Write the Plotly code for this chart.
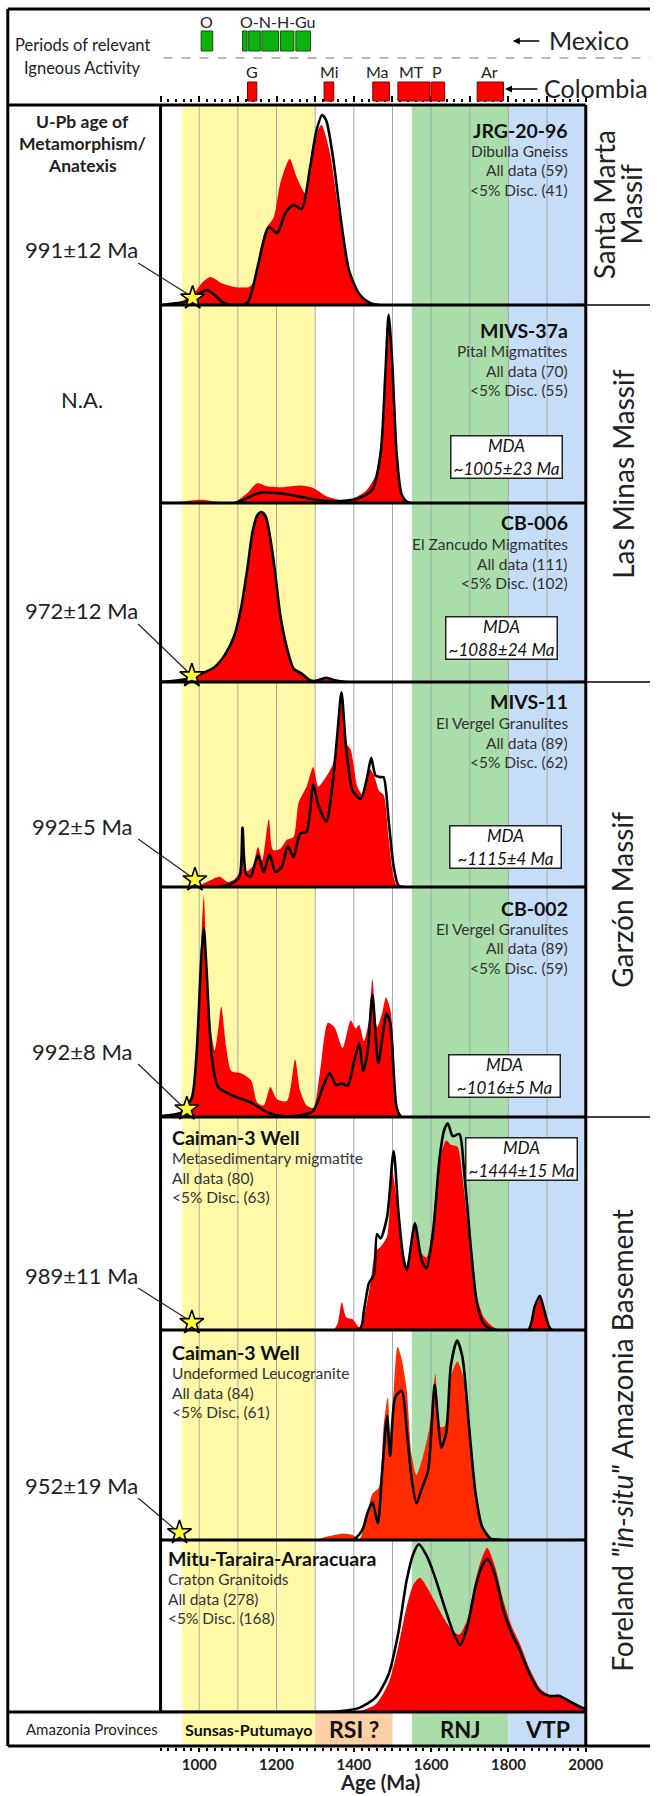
import plotly.graph_objects as go

W, H = 668, 1796
AGE_MIN, AGE_MAX = 900, 2000
X0, X1 = 165, 602          # plot area (px)
FONT = "Lato"

# ---------------- data ----------------
sample_ids = ["JRG-20-96", "MIVS-37a", "CB-006", "MIVS-11", "CB-002",
              "Caiman-3 Well", "Caiman-3 Well", "Mitu-Taraira-Araracuara"]
units = ["Dibulla Gneiss", "Pital Migmatites", "El Zancudo Migmatites", "El Vergel Granulites",
         "El Vergel Granulites", "Metasedimentary migmatite", "Undeformed Leucogranite", "Craton Granitoids"]
n_all = [59, 70, 111, 89, 89, 80, 84, 278]
n_conc = [41, 55, 102, 62, 59, 63, 61, 168]
mda_text = [None, "~1005±23 Ma", "~1088±24 Ma", "~1115±4 Ma", "~1016±5 Ma", "~1444±15 Ma", None, None]
meta_labels = ["991±12 Ma", "N.A.", "972±12 Ma", "992±5 Ma", "992±8 Ma", "989±11 Ma", "952±19 Ma", None]
star_ages = [983, None, 981, 989, 968, 981, 949, None]

p1_red_age = [900, 955, 985, 1007, 1029, 1057, 1091, 1129, 1142, 1159, 1176, 1193, 1210, 1234, 1252, 1274, 1295, 1316, 1337, 1363, 1388, 1414, 1448, 1482, 2000]
p1_red = [0.003, 0.02, 0.055, 0.11, 0.14, 0.11, 0.09, 0.09, 0.12, 0.29, 0.39, 0.44, 0.61, 0.73, 0.64, 0.56, 0.81, 0.90, 0.77, 0.44, 0.16, 0.05, 0.01, 0.0, 0.0]
p1_blk_age = [900, 972, 998, 1019, 1040, 1061, 1091, 1125, 1151, 1172, 1180, 1202, 1223, 1244, 1265, 1287, 1303, 1318, 1329, 1346, 1367, 1388, 1414, 1439, 1465, 2000]
p1_blk = [0.0, 0.02, 0.055, 0.075, 0.05, 0.013, 0.0, 0.013, 0.19, 0.36, 0.39, 0.36, 0.46, 0.50, 0.48, 0.69, 0.87, 0.95, 0.92, 0.74, 0.42, 0.17, 0.055, 0.013, 0.0, 0.0]

p2_red_age = [900, 955, 1006, 1040, 1091, 1108, 1125, 1150, 1176, 1218, 1261, 1295, 1329, 1363, 1397, 1431, 1456, 1473, 1483, 1490, 1503, 1515, 1528, 1550, 2000]
p2_red = [0.003, 0.008, 0.017, 0.008, 0.003, 0.025, 0.05, 0.10, 0.085, 0.08, 0.088, 0.076, 0.034, 0.017, 0.022, 0.06, 0.14, 0.36, 0.75, 0.93, 0.58, 0.16, 0.025, 0.003, 0.0]
p2_blk_age = [900, 1091, 1116, 1142, 1167, 1201, 1235, 1278, 1320, 1363, 1414, 1448, 1469, 1482, 1490, 1499, 1511, 1524, 1541, 2000]
p2_blk = [0.0, 0.0, 0.017, 0.042, 0.054, 0.05, 0.042, 0.025, 0.012, 0.008, 0.025, 0.068, 0.245, 0.67, 0.95, 0.72, 0.245, 0.042, 0.003, 0.0]

p3_red_age = [900, 964, 1006, 1040, 1066, 1091, 1108, 1125, 1138, 1150, 1161, 1172, 1184, 1197, 1210, 1227, 1244, 1265, 1286, 1299, 1329, 1350, 1380, 2000]
p3_red = [0.0, 0.015, 0.047, 0.084, 0.15, 0.26, 0.41, 0.64, 0.84, 0.93, 0.95, 0.925, 0.80, 0.60, 0.37, 0.19, 0.075, 0.047, 0.01, 0.005, 0.024, 0.01, 0.0, 0.0]
p3_blk_age = p3_red_age
p3_blk = p3_red

p4_red_age = [900, 989, 1019, 1053, 1074, 1091, 1106, 1112, 1118, 1138, 1152, 1163, 1180, 1191, 1210, 1227, 1244, 1257, 1278, 1295, 1308, 1329, 1346, 1358, 1367, 1380, 1392, 1409, 1422, 1439, 1452, 1465, 1477, 1490, 1503, 1515, 2000]
p4_red = [0.0, 0.0, 0.024, 0.05, 0.024, 0.036, 0.08, 0.25, 0.073, 0.1, 0.195, 0.13, 0.33, 0.18, 0.187, 0.23, 0.244, 0.41, 0.49, 0.585, 0.49, 0.54, 0.60, 0.76, 0.91, 0.70, 0.67, 0.49, 0.45, 0.58, 0.545, 0.47, 0.45, 0.24, 0.05, 0.0, 0.0]
p4_blk_age = [900, 1049, 1083, 1104, 1112, 1121, 1133, 1152, 1167, 1182, 1197, 1214, 1229, 1244, 1261, 1278, 1295, 1308, 1329, 1346, 1358, 1368, 1380, 1397, 1418, 1435, 1445, 1456, 1469, 1477, 1490, 1503, 1515, 1528, 2000]
p4_blk = [0.0, 0.0, 0.016, 0.05, 0.29, 0.065, 0.05, 0.155, 0.073, 0.16, 0.073, 0.1, 0.2, 0.146, 0.26, 0.27, 0.50, 0.40, 0.32, 0.52, 0.76, 0.95, 0.68, 0.47, 0.43, 0.54, 0.63, 0.545, 0.536, 0.536, 0.325, 0.1, 0.008, 0.0, 0.0]

p5_red_age = [900, 947, 972, 989, 1002, 1012, 1023, 1040, 1049, 1057, 1070, 1083, 1108, 1134, 1150, 1167, 1184, 1201, 1227, 1248, 1261, 1278, 1295, 1312, 1333, 1350, 1371, 1392, 1405, 1414, 1426, 1439, 1448, 1460, 1473, 1483, 1494, 1503, 1511, 1524, 2000]
p5_red = [0.004, 0.02, 0.05, 0.16, 0.64, 0.96, 0.49, 0.29, 0.38, 0.48, 0.30, 0.20, 0.19, 0.16, 0.063, 0.05, 0.13, 0.077, 0.07, 0.25, 0.114, 0.05, 0.04, 0.19, 0.41, 0.39, 0.30, 0.42, 0.385, 0.40, 0.33, 0.42, 0.60, 0.39, 0.45, 0.52, 0.47, 0.30, 0.04, 0.0, 0.0]
p5_blk_age = [900, 955, 981, 993, 1006, 1012, 1019, 1032, 1049, 1091, 1134, 1176, 1218, 1261, 1295, 1320, 1337, 1354, 1369, 1384, 1401, 1414, 1424, 1435, 1448, 1463, 1475, 1484, 1494, 1503, 1511, 1524, 2000]
p5_blk = [0.004, 0.02, 0.085, 0.27, 0.71, 0.82, 0.64, 0.27, 0.13, 0.09, 0.063, 0.02, 0.004, 0.007, 0.026, 0.13, 0.19, 0.14, 0.145, 0.136, 0.245, 0.32, 0.20, 0.275, 0.53, 0.234, 0.36, 0.45, 0.41, 0.20, 0.04, 0.0, 0.0]

p6_red_age = [900, 1346, 1358, 1369, 1380, 1397, 1414, 1426, 1443, 1456, 1469, 1486, 1499, 1511, 1524, 1537, 1558, 1575, 1588, 1605, 1622, 1639, 1651, 1668, 1681, 1698, 1715, 1736, 1762, 1787, 1855, 1868, 1881, 1893, 1910, 2000]
p6_red = [0.0, 0.0, 0.03, 0.13, 0.06, 0.05, 0.013, 0.06, 0.22, 0.37, 0.39, 0.44, 0.75, 0.61, 0.37, 0.30, 0.51, 0.36, 0.34, 0.51, 0.80, 0.89, 0.87, 0.86, 0.72, 0.44, 0.185, 0.06, 0.013, 0.0, 0.005, 0.09, 0.15, 0.075, 0.005, 0.0]
p6_blk_age = [900, 1414, 1426, 1439, 1452, 1460, 1469, 1486, 1503, 1515, 1528, 1537, 1558, 1575, 1588, 1605, 1622, 1634, 1643, 1656, 1673, 1685, 1702, 1719, 1736, 1762, 1851, 1868, 1881, 1893, 1910, 2000]
p6_blk = [0.0, 0.0, 0.09, 0.22, 0.26, 0.45, 0.43, 0.53, 0.84, 0.56, 0.34, 0.28, 0.50, 0.33, 0.29, 0.46, 0.81, 0.94, 0.97, 0.91, 0.92, 0.75, 0.40, 0.12, 0.03, 0.0, 0.0, 0.11, 0.16, 0.09, 0.003, 0.0]

p7_red_age = [900, 1295, 1329, 1371, 1397, 1414, 1431, 1448, 1465, 1477, 1488, 1494, 1503, 1513, 1524, 1537, 1549, 1562, 1579, 1596, 1611, 1622, 1634, 1651, 1668, 1685, 1702, 1719, 1736, 1753, 1778, 2000]
p7_red = [0.0, 0.0, 0.016, 0.03, 0.024, 0.003, 0.095, 0.22, 0.25, 0.54, 0.68, 0.48, 0.71, 0.92, 0.86, 0.71, 0.41, 0.31, 0.40, 0.54, 0.79, 0.54, 0.54, 0.78, 0.85, 0.76, 0.48, 0.19, 0.048, 0.008, 0.0, 0.0]
p7_blk_age = [900, 1397, 1422, 1435, 1448, 1462, 1473, 1486, 1494, 1507, 1524, 1537, 1549, 1562, 1575, 1592, 1609, 1617, 1626, 1639, 1651, 1667, 1681, 1698, 1715, 1732, 1753, 1778, 2000]
p7_blk = [0.0, 0.0, 0.048, 0.127, 0.18, 0.08, 0.32, 0.59, 0.40, 0.68, 0.71, 0.52, 0.30, 0.175, 0.24, 0.33, 0.74, 0.59, 0.44, 0.51, 0.83, 0.95, 0.87, 0.54, 0.22, 0.063, 0.008, 0.0, 0.0]

p8_red_age = [900, 1380, 1414, 1456, 1490, 1515, 1537, 1554, 1571, 1588, 1609, 1634, 1656, 1673, 1694, 1715, 1732, 1745, 1766, 1787, 1808, 1829, 1855, 1881, 1906, 1932, 1957, 1991, 2000]
p8_red = [0.0, 0.0, 0.004, 0.043, 0.17, 0.38, 0.615, 0.74, 0.78, 0.73, 0.645, 0.54, 0.47, 0.45, 0.54, 0.77, 0.90, 0.955, 0.84, 0.645, 0.50, 0.40, 0.25, 0.14, 0.10, 0.10, 0.067, 0.028, 0.025]
p8_blk_age = [900, 1295, 1363, 1414, 1456, 1490, 1515, 1537, 1554, 1568, 1588, 1609, 1634, 1656, 1675, 1694, 1715, 1732, 1746, 1766, 1787, 1808, 1829, 1855, 1881, 1906, 1932, 1957, 1991, 2000]
p8_blk = [0.0, 0.0, 0.004, 0.024, 0.083, 0.22, 0.46, 0.77, 0.92, 0.975, 0.91, 0.79, 0.615, 0.47, 0.39, 0.50, 0.73, 0.85, 0.89, 0.79, 0.59, 0.46, 0.36, 0.22, 0.12, 0.093, 0.093, 0.063, 0.024, 0.02]

red_ages = [p1_red_age, p2_red_age, p3_red_age, p4_red_age, p5_red_age, p6_red_age, p7_red_age, p8_red_age]
red_vals = [p1_red, p2_red, p3_red, p4_red, p5_red, p6_red, p7_red, p8_red]
blk_ages = [p1_blk_age, p2_blk_age, p3_blk_age, p4_blk_age, p5_blk_age, p6_blk_age, p7_blk_age, p8_blk_age]
blk_vals = [p1_blk, p2_blk, p3_blk, p4_blk, p5_blk, p6_blk, p7_blk, p8_blk]

# igneous activity periods (Ma)
mexico_periods = [[1005, 1035], [1112, 1124], [1128, 1158], [1162, 1205], [1210, 1245], [1250, 1288]]
mexico_labels = ["O", "O-N-H-Gu"]
mexico_label_ages = [1019, 1205]
colombia_periods = [[1125, 1149], [1323, 1348], [1449, 1492], [1514, 1597], [1600, 1635], [1719, 1787]]
colombia_labels = ["G", "Mi", "Ma", "MT", "P", "Ar"]
colombia_label_ages = [1137, 1336, 1462, 1548, 1614, 1752]

# Amazonian provinces
province_names = ["Sunsas-Putumayo", "RSI ?", "RNJ", "VTP"]
province_ranges = [[955, 1300], [1300, 1500], [1550, 1800], [1800, 2000]]
province_colors = ["#FFF9A8", "#FCCFA4", "#A9DDA9", "#C6DDF8"]
province_font = [16, 23, 22, 23]
band_ranges = [[955, 1300], [1550, 1800], [1800, 2000]]
band_colors = ["#FFF9A8", "#A9DDA9", "#C6DDF8"]
grid_ages = [1000, 1100, 1200, 1300, 1400, 1500, 1600, 1700, 1800, 1900]
tick_label_ages = [1000, 1200, 1400, 1600, 1800, 2000]

# ---------------- layout geometry (px) ----------------
edges = [105, 305, 503, 682, 887, 1117, 1330, 1540, 1712]
STRIP_BOT = 1746

def px(x): return x / W
def py(y): return 1 - y / H
def age_px(a): return X0 + (a - AGE_MIN) * (X1 - X0) / (AGE_MAX - AGE_MIN)

fig = go.Figure()
layout = dict(width=W, height=H, margin=dict(l=0, r=0, t=0, b=0),
              paper_bgcolor="white", plot_bgcolor="rgba(0,0,0,0)", showlegend=False,
              font=dict(family=FONT, color="#222"))

tick_vals = list(range(AGE_MIN, AGE_MAX + 1, 100))
tick_text = [str(v) if v in tick_label_ages else "" for v in tick_vals]
minor_vals = list(range(AGE_MIN, AGE_MAX + 1, 20))
layout["xaxis"] = dict(domain=[px(X0), px(X1)], range=[AGE_MIN, AGE_MAX], anchor="free",
                       position=py(STRIP_BOT + 1), showgrid=False, zeroline=False, showline=False,
                       tickmode="array", tickvals=tick_vals, ticktext=tick_text, ticks="outside",
                       ticklen=4, tickwidth=2, tickcolor="black",
                       minor=dict(tickmode="array", tickvals=minor_vals, ticks="outside", ticklen=3,
                                  tickwidth=1.5, tickcolor="black", showgrid=False),
                       tickfont=dict(family=FONT, size=15, color="#222", weight="bold"), fixedrange=True)
layout["xaxis2"] = dict(domain=[px(X0), px(X1)], range=[AGE_MIN, AGE_MAX], anchor="free", overlaying="x",
                        side="top", position=py(102), showgrid=False, zeroline=False, showline=False,
                        tickmode="array", tickvals=tick_vals, ticks="outside", ticklen=6, tickwidth=2,
                        tickcolor="black", showticklabels=False,
                        minor=dict(tickmode="array", tickvals=minor_vals, ticks="outside", ticklen=3,
                                   tickwidth=1.5, tickcolor="black", showgrid=False), fixedrange=True)

fill_colors = ["#FF0000"] * 6 + ["#FF2A00", "#FF0000"]
for i in range(8):
    yname = "y" if i == 0 else f"y{i+1}"
    lname = "yaxis" if i == 0 else f"yaxis{i+1}"
    layout[lname] = dict(domain=[py(edges[i + 1]), py(edges[i])], range=[0, 1], visible=False,
                         anchor="free", position=px(X0), fixedrange=True)
    fig.add_trace(go.Scatter(x=red_ages[i], y=red_vals[i], xaxis="x", yaxis=yname, mode="lines",
                             line=dict(width=0, shape="spline", smoothing=0.7), fill="tozeroy",
                             fillcolor=fill_colors[i], hoverinfo="skip"))
    fig.add_trace(go.Scatter(x=blk_ages[i], y=blk_vals[i], xaxis="x", yaxis=yname, mode="lines",
                             line=dict(width=2.6, color="black", shape="spline", smoothing=0.7),
                             hoverinfo="skip"))
    if star_ages[i] is not None:
        fig.add_trace(go.Scatter(x=[star_ages[i]], y=[0.035], xaxis="x", yaxis=yname, mode="markers",
                                 marker=dict(symbol="star", size=18, color="#FFFF3A",
                                             line=dict(width=1.6, color="black")),
                                 cliponaxis=False, hoverinfo="skip"))
fig.add_trace(go.Scatter(x=[AGE_MIN], y=[0], xaxis="x2", yaxis="y", mode="markers",
                         marker=dict(size=1, opacity=0), hoverinfo="skip"))

shapes = []
annotations = []

def line(x0, y0, x1, y1, w=3, color="black", layer="above", dash=None):
    d = dict(type="line", xref="paper", yref="paper", x0=px(x0), x1=px(x1), y0=py(y0), y1=py(y1),
             line=dict(color=color, width=w), layer=layer)
    if dash:
        d["line"]["dash"] = dash
    shapes.append(d)

def rect_age(a0, a1, y0, y1, fill, lw=0, lc="black", layer="below"):
    shapes.append(dict(type="rect", xref="x", yref="paper", x0=a0, x1=a1, y0=py(y1), y1=py(y0),
                       fillcolor=fill, line=dict(width=lw, color=lc), layer=layer))

def text(t, x, y, size, color="#222", bold=False, italic=False, xanchor="center", xref="paper",
         angle=0, **kw):
    if italic:
        t = f"<i>{t}</i>"
    annotations.append(dict(text=t, x=x if xref != "paper" else px(x), y=py(y), xref=xref, yref="paper",
                            showarrow=False, xanchor=xanchor, yanchor="middle", textangle=angle,
                            font=dict(family=FONT, size=size, color=color,
                                      weight="bold" if bold else "normal"), **kw))

# background bands in plot area
for (a0, a1), c in zip(band_ranges, band_colors):
    rect_age(a0, a1, edges[0], edges[-1], c)
for g in grid_ages:
    shapes.append(dict(type="line", xref="x", yref="paper", x0=g, x1=g, y0=py(edges[-1]), y1=py(edges[0]),
                       line=dict(color="#A9A9A9", width=1), layer="below"))
# provinces strip
for (a0, a1), c in zip(province_ranges, province_colors):
    rect_age(a0, a1, edges[-1], STRIP_BOT, c)
for name, (a0, a1), sz in zip(province_names, province_ranges, province_font):
    text(name, (a0 + a1) / 2, 1729, sz, color="#111", bold=True, xref="x")
text("Amazonia Provinces", 95, 1729, 15, color="#222")

# header: igneous activity
for a0, a1 in mexico_periods:
    rect_age(a0, a1, 31, 51, "#0DB30D", lw=1, lc="#145214", layer="above")
for lab, a in zip(mexico_labels, mexico_label_ages):
    text(lab, a, 21, 16, xref="x")
for a0, a1 in colombia_periods:
    rect_age(a0, a1, 82, 101, "#FF0000", lw=1, lc="#7A0000", layer="above")
for lab, a in zip(colombia_labels, colombia_label_ages):
    text(lab, a, 72, 16, xref="x")
line(168, 58, 668, 58, w=1.2, color="#777", dash="dash")
text("Periods of relevant", 85, 45, 16.5)
text("Igneous Activity", 85, 68, 16.5)
text("Mexico", 562, 40, 25, xanchor="left")
text("Colombia", 557, 88, 25, xanchor="left")
for (xt, yt, ln) in [(527, 41, 28), (519, 89, 34)]:
    annotations.append(dict(x=px(xt), y=py(yt), xref="paper", yref="paper", text="", showarrow=True,
                            ax=ln, ay=0, arrowhead=2, arrowsize=1, arrowwidth=1.4, arrowcolor="black"))

# panel text
title_y = [130, 330, 523, 702, 908, 1137, 1352, 1558]
for i in range(8):
    ty = title_y[i]
    if i < 5:
        xx, anc = 586, "right"
    else:
        xx, anc = (175 if i < 7 else 171), "left"
    text(sample_ids[i], xx, ty, 19.5, color="#111", bold=True, xanchor=anc)
    text(units[i], xx, ty + 21, 15.5, color="#333", xanchor=anc)
    text(f"All data ({n_all[i]})", xx, ty + 40.5, 15.5, color="#333", xanchor=anc)
    text(f"&lt;5% Disc. ({n_conc[i]})", xx, ty + 59.5, 15.5, color="#333", xanchor=anc)

mda_box = {1: (521, 457), 2: (515, 638), 3: (519, 847), 4: (518, 1076), 5: (536, 1159)}
for i, (cx, cy) in mda_box.items():
    annotations.append(dict(text=f"<i>MDA</i><br><i>{mda_text[i]}</i>", x=px(cx), y=py(cy),
                            xref="paper", yref="paper", showarrow=False, xanchor="center",
                            yanchor="middle", width=108, height=39, align="center",
                            bordercolor="#222", borderwidth=1.5, borderpad=1, bgcolor="white",
                            font=dict(family=FONT, size=17, color="#111")))

# left column
text("U-Pb age of", 85, 121, 17.5, bold=True)
text("Metamorphism/", 85, 143, 17.5, bold=True)
text("Anatexis", 85, 165, 17.5, bold=True)
label_y = [250, 399, 611, 826, 1051, 1275, 1485]
for i in range(7):
    text(meta_labels[i], 84, label_y[i], 22)
    if star_ages[i] is not None:
        sx = age_px(star_ages[i])
        sy = edges[i + 1] - 7
        line(142, label_y[i] + 13, sx - 5, sy - 4, w=1.2, color="#222")

# right-side group labels
text("Santa Marta", 621, 205, 28, angle=-90)
text("Massif", 648, 205, 28, angle=-90)
text("Las Minas Massif", 640, 474, 28, angle=-90)
text("Garzón Massif", 639, 900, 28, angle=-90)
text('Foreland <i>"in-situ"</i> Amazonia Basement', 639, 1440, 28, angle=-90)

# x-axis title
annotations.append(dict(text="Age (Ma)", x=px(391), y=py(1796), xref="paper", yref="paper",
                        showarrow=False, xanchor="center", yanchor="bottom",
                        font=dict(family=FONT, size=20, color="#222", weight="bold")))

# frame lines
line(8, 9, 668, 9)                      # top
line(8, 9, 8, STRIP_BOT)                # left
line(8, edges[0], X1, edges[0])         # header bottom
line(X0, edges[0], X0, edges[-1])       # plot left
line(X1, edges[0], X1, STRIP_BOT)       # plot right
for e in edges[1:-1]:
    line(X0, e, X1, e)
line(8, edges[-1], X1, edges[-1])
line(8, STRIP_BOT, 668, STRIP_BOT)
for e in [305, 682, 1117]:
    line(X1, e, 668, e, w=1.5)

layout["shapes"] = shapes
layout["annotations"] = annotations
fig.update_layout(**layout)
fig.write_html("out.html")
